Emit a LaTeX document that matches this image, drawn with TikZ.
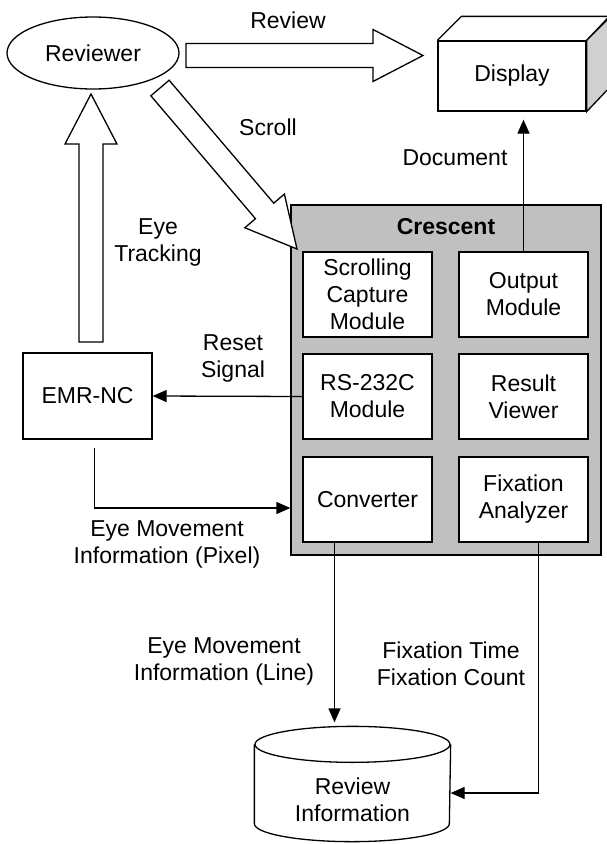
\documentclass[tikz,border=0pt]{standalone}
\usepackage{fontspec}
\setmainfont{Liberation Sans}
\usetikzlibrary{calc,arrows.meta,shapes.geometric}

\definecolor{panelgray}{HTML}{C0C0C0}
\definecolor{sidegray}{HTML}{D0D0D0}

% hollow block arrow from #1 to #2
\newcommand{\fatarrow}[2]{%
  \coordinate (fatbase) at ($(#2)!50pt!(#1)$);
  \draw[fill=white, line join=miter]
    ($(#1)!12pt!90:(#2)$) -- ($(fatbase)!12pt!90:(#2)$) -- ($(fatbase)!26pt!90:(#2)$)
    -- (#2) -- ($(fatbase)!26pt!-90:(#2)$) -- ($(fatbase)!12pt!-90:(#2)$)
    -- ($(#1)!12pt!-90:(#2)$) -- cycle;
}

\begin{document}
\begin{tikzpicture}[
    x=1pt, y=-1pt,
    font=\fontsize{23}{27}\selectfont,
    line width=1.3pt,
    module/.style={draw, fill=white, minimum width=129pt, minimum height=85pt, align=center, inner sep=0pt},
    lbl/.style={align=center, inner sep=0pt},
    conn/.style={-{Triangle[length=14pt,width=12pt]}},
]
\useasboundingbox (0,0) rectangle (607,844);

% Reviewer and display
\node[draw, ellipse, minimum width=172pt, minimum height=72pt, inner sep=0pt] (reviewer) at (93,53) {Reviewer};
\node[draw, fill=white, minimum width=148pt, minimum height=70pt] (display) at (512,76) {Display};
\draw (display.north west) -- ++(24,-24) -- ++(148,0) -- (display.north east);
\draw[fill=sidegray] (display.north east) -- ++(24,-24) -- ++(0,70) -- (display.south east) -- cycle;

% EMR-NC
\node[draw, minimum width=129pt, minimum height=86pt] (emr) at (87.5,396) {EMR-NC};

% Crescent
\node[draw, fill=panelgray, minimum width=310pt, minimum height=350pt] (crescent) at (446,380) {};
\node[lbl, font=\fontsize{23}{27}\selectfont\bfseries] (crestitle) at (446,227) {Crescent};
\node[module] (scroll) at (367.5,294.5) {Scrolling\\Capture\\Module};
\node[module] (outm) at (523.5,294.5) {Output\\Module};
\node[module] (rs) at (367.5,396.5) {RS-232C\\Module};
\node[module] (result) at (523.5,396.5) {Result\\Viewer};
\node[module] (conv) at (367.5,499.5) {Converter};
\node[module] (fixa) at (523.5,499.5) {Fixation\\Analyzer};

% Review Information (cylinder)
\node[lbl, minimum width=195pt, minimum height=82pt] (revinfo) at (352.5,800) {Review\\Information};
\draw ($(revinfo.north)+(0,-14)$) ellipse [x radius=97.5, y radius=18];
\draw ($(revinfo.north west)+(0,-14)$) -- ($(revinfo.south west)+(0,-18)$)
  arc[start angle=180, end angle=0, x radius=97.5, y radius=18] -- ($(revinfo.north east)+(0,-14)$);

% Block arrows
\coordinate (revtail) at (186,55.5);
\coordinate (revtip) at (423,55.5);
\coordinate (scrtail) at (160,88);
\coordinate (scrtip) at (297,249);
\coordinate (eyetail) at (91,342);
\coordinate (eyetip) at (91,94);
\fatarrow{revtail}{revtip}
\fatarrow{scrtail}{scrtip}
\fatarrow{eyetail}{eyetip}

% Connectors
\coordinate (disptip) at ($(outm.north |- display.south)+(0,8)$);
\draw[conn] (outm.north) -- (disptip);
\draw[conn] (rs.west) -- (emr.east);
\coordinate (emrout) at ($(emr.south)+(7,8)$);
\coordinate (pixin) at ($(crescent.west |- conv.west)+(0,8.5)$);
\draw[conn] (emrout) |- (pixin);
\coordinate (convout) at ($(conv.south)+(-33,0)$);
\draw[conn] (convout) -- ($(convout |- revinfo.north)+(0,-36)$);
\coordinate (fixout) at ($(fixa.south)+(15,0)$);
\draw[conn] (fixout) |- ($(revinfo.east)+(0,-7)$);

% Labels
\node[lbl] (reviewlbl) at (288,20) {Review};
\node[lbl] (scrolllbl) at (268,127) {Scroll};
\node[lbl] (doclbl) at (455,158) {Document};
\node[lbl] (eyelbl) at (158,242) {Eye\\Tracking};
\node[lbl] (resetlbl) at (233,358) {Reset\\Signal};
\node[lbl] (pixlbl) at (167,544) {Eye Movement\\Information (Pixel)};
\node[lbl] (linelbl) at (224,661) {Eye Movement\\Information (Line)};
\node[lbl] (fixlbl) at (451,664) {Fixation Time\\Fixation Count};

\end{tikzpicture}
\end{document}
